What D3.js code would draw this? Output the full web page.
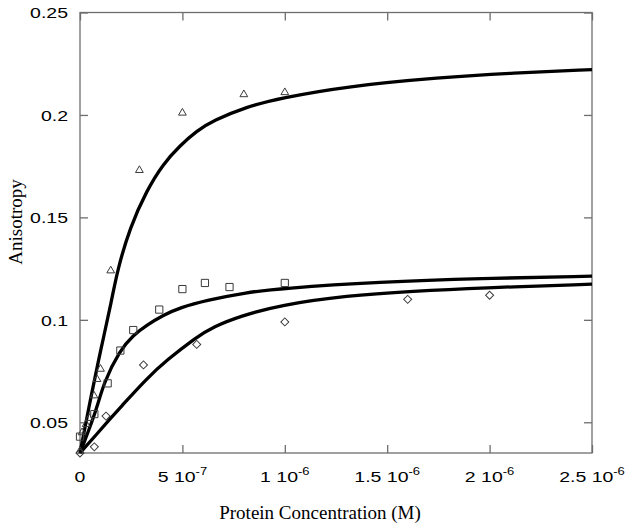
<!DOCTYPE html>
<html lang="en">
<head>
  <meta charset="UTF-8">
  <title>Anisotropy vs Protein Concentration</title>
  <script src="https://d3js.org/d3.v7.min.js"></script>
  <style>
    body {
      margin: 0;
      background: #fff;
    }

    .frame {
      fill: none;
      stroke: #6e6e6e;
      stroke-width: 1.3px;
    }

    .tick line {
      stroke: #6e6e6e;
      stroke-width: 1.3px;
    }

    .domain {
      display: none;
    }

    .tick text {
      font-family: "Liberation Sans", Arial, sans-serif;
      font-size: 15px;
      fill: #000;
    }

    .title {
      font-family: "Liberation Serif", "Times New Roman", serif;
      font-size: 19px;
      fill: #000;
    }

    .fit {
      fill: none;
      stroke: #000;
      stroke-width: 3.3px;
    }

    .pt {
      fill: none;
      stroke: #3a3a3a;
      stroke-width: 1px;
    }
  </style>
</head>
<body>
<div id="chart"></div>

<script>
  // measured points (concentration in M, anisotropy)
  var triX = [0, 1e-8, 3e-8, 4.5e-8, 6.8e-8, 8.3e-8, 1e-7, 1.5e-7, 2.9e-7, 5e-7, 8e-7, 1e-6];
  var triY = [0.036, 0.045, 0.049, 0.052, 0.063, 0.071, 0.076, 0.124, 0.173, 0.201, 0.210, 0.211];

  var sqX = [0, 7e-8, 1.35e-7, 1.97e-7, 2.6e-7, 3.87e-7, 5e-7, 6.1e-7, 7.3e-7, 1e-6];
  var sqY = [0.043, 0.054, 0.069, 0.085, 0.095, 0.105, 0.115, 0.118, 0.116, 0.118];

  var diaX = [0, 7e-8, 1.27e-7, 3.1e-7, 5.7e-7, 1e-6, 1.6e-6, 2e-6];
  var diaY = [0.035, 0.038, 0.053, 0.078, 0.088, 0.099, 0.110, 0.112];

  // fitted curves
  var fitTriX = [0, 0.057e-6, 0.101e-6, 0.155e-6, 0.182e-6, 0.244e-6, 0.326e-6, 0.405e-6, 0.488e-6, 0.570e-6, 0.649e-6, 0.814e-6, 0.977e-6, 1.302e-6, 1.758e-6, 2.114e-6, 2.5e-6];
  var fitTriY = [0.035, 0.0643, 0.0852, 0.1096, 0.1240, 0.1452, 0.1632, 0.1760, 0.1850, 0.1922, 0.1972, 0.2040, 0.2082, 0.2140, 0.2183, 0.2205, 0.2221];

  var fitSqX = [0, 0.081e-6, 0.114e-6, 0.195e-6, 0.260e-6, 0.326e-6, 0.407e-6, 0.488e-6, 0.619e-6, 0.814e-6, 0.977e-6, 1.465e-6, 1.953e-6, 2.5e-6];
  var fitSqY = [0.035, 0.0560, 0.0690, 0.0852, 0.0925, 0.0974, 0.1023, 0.1060, 0.1096, 0.1134, 0.1153, 0.1185, 0.1202, 0.1213];

  var fitDiaX = [0, 0.073e-6, 0.163e-6, 0.195e-6, 0.326e-6, 0.423e-6, 0.570e-6, 0.651e-6, 0.781e-6, 0.977e-6, 1.302e-6, 1.628e-6, 1.953e-6, 2.5e-6];
  var fitDiaY = [0.035, 0.0432, 0.0535, 0.0570, 0.0714, 0.0803, 0.0917, 0.0966, 0.1018, 0.1072, 0.1118, 0.1140, 0.1156, 0.1174];

  var xTicks = [0, 5e-7, 1e-6, 1.5e-6, 2e-6, 2.5e-6];
  var xMant = ["0", "5", "1", "1.5", "2", "2.5"];
  var xExp = ["", "-7", "-6", "-6", "-6", "-6"];
  var yTicks = [0.05, 0.1, 0.15, 0.2, 0.25];
  var yLabels = ["0.05", "0.1", "0.15", "0.2", "0.25"];

  var width = 629, height = 525;
  var plotLeft = 80, plotRight = 592, plotTop = 12.5, plotBottom = 453;
  var stretch = 1.3; // the source text is drawn wide

  var svg = d3.select("#chart").append("svg")
    .attr("width", width)
    .attr("height", height);

  var x = d3.scaleLinear().domain([0, 2.5e-6]).range([plotLeft, plotRight]);
  var y = d3.scaleLinear().domain([0.035, 0.25]).range([plotBottom, plotTop]);

  // ticks point inward on all four sides
  svg.append("g")
    .attr("transform", "translate(0," + plotBottom + ")")
    .call(d3.axisBottom(x).tickValues(xTicks).tickSize(-8).tickFormat(""));
  svg.append("g")
    .attr("transform", "translate(0," + plotTop + ")")
    .call(d3.axisTop(x).tickValues(xTicks).tickSize(-8).tickFormat(""));
  svg.append("g")
    .attr("transform", "translate(" + plotRight + ",0)")
    .call(d3.axisRight(y).tickValues(yTicks).tickSize(-8).tickFormat(""));

  var yAxis = svg.append("g")
    .attr("transform", "translate(" + plotLeft + ",0)")
    .call(d3.axisLeft(y).tickValues(yTicks).tickSize(-8).tickPadding(0)
      .tickFormat((d, i) => yLabels[i]));
  yAxis.selectAll(".tick text")
    .attr("x", -12 / stretch)
    .attr("dy", "0.36em")
    .attr("transform", "scale(" + stretch + ",1)");

  // x labels like "5 10^-7"
  svg.append("g").selectAll("text")
    .data(xTicks)
    .enter().append("text")
    .attr("transform", d => "translate(" + x(d) + ",482) scale(" + stretch + ",1)")
    .attr("text-anchor", "middle")
    .style("font-family", "\"Liberation Sans\", Arial, sans-serif")
    .style("font-size", "15px")
    .each(function(d, i) {
      var t = d3.select(this);
      if (!xExp[i]) {
        t.text(xMant[i]);
        return;
      }
      t.append("tspan").text(xMant[i] + " 10");
      t.append("tspan").attr("dy", -7).style("font-size", "10px").text(xExp[i]);
    });

  svg.append("rect")
    .attr("class", "frame")
    .attr("x", plotLeft)
    .attr("y", plotTop)
    .attr("width", plotRight - plotLeft)
    .attr("height", plotBottom - plotTop);

  var line = d3.line()
    .x(d => x(d[0]))
    .y(d => y(d[1]))
    .curve(d3.curveBasis);

  [[fitTriX, fitTriY], [fitSqX, fitSqY], [fitDiaX, fitDiaY]].forEach(function(s) {
    svg.append("path")
      .attr("class", "fit")
      .attr("d", line(d3.zip(s[0], s[1])));
  });

  function drawPoints(xs, ys, sym, size, rot) {
    svg.append("g").selectAll("path")
      .data(d3.zip(xs, ys))
      .enter().append("path")
      .attr("class", "pt")
      .attr("d", d3.symbol().type(sym).size(size))
      .attr("transform", d => "translate(" + x(d[0]) + "," + y(d[1]) + ") rotate(" + rot + ")");
  }

  drawPoints(triX, triY, d3.symbolTriangle, 26, 0);
  drawPoints(sqX, sqY, d3.symbolSquare, 52, 0);
  drawPoints(diaX, diaY, d3.symbolSquare, 32, 45);

  svg.append("text")
    .attr("class", "title")
    .attr("x", 320)
    .attr("y", 519)
    .attr("text-anchor", "middle")
    .text("Protein Concentration (M)");

  svg.append("text")
    .attr("class", "title")
    .attr("transform", "translate(22,222) rotate(-90)")
    .attr("text-anchor", "middle")
    .text("Anisotropy");
</script>
</body>
</html>
